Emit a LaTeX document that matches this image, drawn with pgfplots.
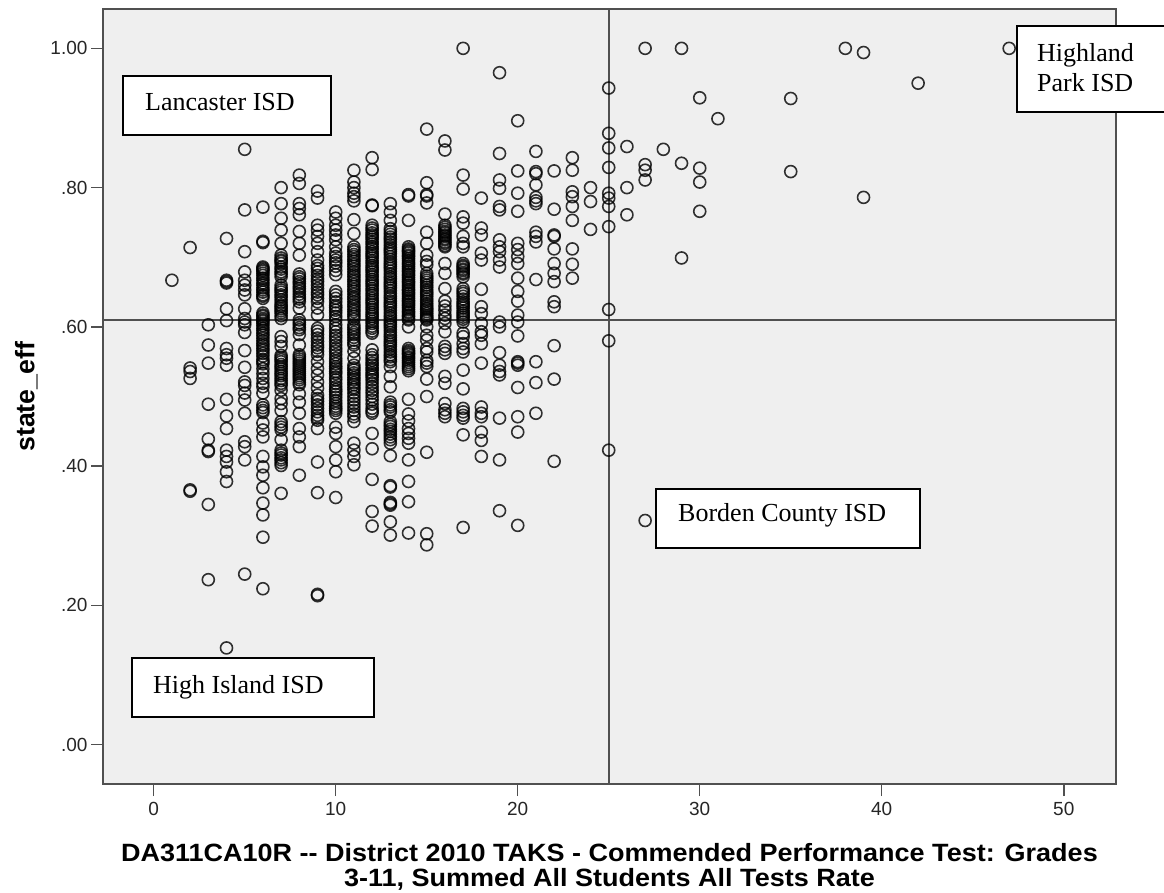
\documentclass[border=0pt]{standalone}
\usepackage{fontspec}
\setmainfont{Liberation Sans}
\newfontfamily\timesf{Liberation Serif}
\newfontfamily\widebold[FakeStretch=1.08]{Liberation Sans Bold}
\usepackage{pgfplots}
\pgfplotsset{compat=1.18}
\definecolor{plotbg}{HTML}{EFEFEF}
\definecolor{frameg}{HTML}{505050}
\begin{document}
\begin{tikzpicture}[x=1pt,y=1pt]
\useasboundingbox (0,0) rectangle (1164,892);
\begin{axis}[
  at={(103pt,108pt)},anchor=south west,
  width=1013pt,height=774.5pt,scale only axis,
  xmin=-2.786,xmax=52.87,ymin=-0.0564,ymax=1.0558,
  axis background/.style={fill=plotbg},
  axis line style={draw=frameg,line width=2pt},
  xtick={0,10,20,30,40,50},
  ytick={0,.2,.4,.6,.8,1},
  yticklabels={.00,.20,.40,.60,.80,1.00},
  xticklabels={0,10,20,30,40,50},
  tick align=outside,
  major tick length=12pt,
  tick style={draw=frameg,line width=1.5pt},
  xtick pos=bottom,ytick pos=left,
  tick label style={font=\fontsize{19}{22}\selectfont,color=black!85},
  xticklabel style={yshift=-3pt},
  xlabel={DA311CA10R -{}- District 2010 TAKS - Commended Performance Test: Grades\\3-11, Summed All Students All Tests Rate},
  xlabel style={align=center,font=\fontsize{25}{25}\selectfont\widebold,yshift=-21pt},
  ylabel={state\_eff},
  ylabel style={font=\fontsize{26.7}{28}\selectfont\bfseries,yshift=6pt},
]
\addplot[frameg,line width=1.6pt] coordinates {(25,-0.0564)(25,1.0558)};
\addplot[frameg,line width=1.6pt] coordinates {(-2.786,.61)(52.87,.61)};
\addplot[only marks,mark=o,mark size=6pt,mark options={draw=black,draw opacity=.8,line width=1.6pt}] coordinates {
(1,.667)
(2,.714)(2,.541)(2,.536)(2,.526)(2,.366)(2,.364)
(3,.603)(3,.574)(3,.548)(3,.489)(3,.439)(3,.423)(3,.421)(3,.345)(3,.237)
(4,.727)(4,.667)(4,.665)(4,.663)(4,.626)(4,.609)(4,.569)(4,.560)(4,.555)(4,.545)(4,.496)(4,.472)(4,.454)(4,.423)(4,.414)(4,.406)(4,.392)(4,.378)(4,.139)
(5,.855)(5,.768)(5,.708)(5,.679)(5,.667)(5,.660)(5,.653)(5,.646)(5,.626)(5,.612)(5,.607)(5,.603)(5,.592)(5,.566)(5,.542)(5,.521)(5,.516)(5,.505)(5,.495)(5,.476)(5,.435)(5,.428)(5,.409)(5,.245)
(6,.772)(6,.721)(6,.723)(6,.686)(6,.682)(6,.677)(6,.670)(6,.663)(6,.653)(6,.646)(6,.641)(6,.620)(6,.615)(6,.610)(6,.605)(6,.598)(6,.591)(6,.584)(6,.576)(6,.569)(6,.562)(6,.553)(6,.547)(6,.540)(6,.533)(6,.526)(6,.519)(6,.514)(6,.505)(6,.488)(6,.480)(6,.462)(6,.452)(6,.442)(6,.414)(6,.399)(6,.387)(6,.369)(6,.347)(6,.330)(6,.298)(6,.224)
(6,.684)(6,.680)(6,.674)(6,.667)(6,.660)(6,.656)(6,.650)(6,.644)(6,.617)(6,.612)(6,.608)(6,.602)(6,.595)(6,.588)(6,.580)(6,.573)(6,.566)(6,.558)(6,.550)(6,.477)(6,.484)
(7,.800)(7,.777)(7,.756)(7,.739)(7,.720)(7,.703)(7,.696)(7,.691)(7,.686)(7,.679)(7,.672)(7,.660)(7,.653)(7,.646)(7,.639)(7,.631)(7,.626)(7,.620)(7,.612)(7,.586)(7,.579)(7,.572)(7,.559)(7,.553)(7,.546)(7,.540)(7,.533)(7,.526)(7,.519)(7,.509)(7,.497)(7,.490)(7,.480)(7,.464)(7,.456)(7,.452)(7,.438)(7,.423)(7,.416)(7,.409)(7,.401)(7,.361)
(7,.699)(7,.694)(7,.683)(7,.676)(7,.656)(7,.650)(7,.643)(7,.635)(7,.629)(7,.623)(7,.616)(7,.556)(7,.550)(7,.543)(7,.536)(7,.530)(7,.523)(7,.516)(7,.460)(7,.419)(7,.412)(7,.405)
(8,.818)(8,.806)(8,.777)(8,.770)(8,.761)(8,.737)(8,.720)(8,.703)(8,.672)(8,.665)(8,.658)(8,.651)(8,.643)(8,.636)(8,.627)(8,.610)(8,.603)(8,.596)(8,.589)(8,.574)(8,.560)(8,.554)(8,.548)(8,.542)(8,.536)(8,.530)(8,.524)(8,.517)(8,.504)(8,.492)(8,.476)(8,.454)(8,.442)(8,.428)(8,.387)
(8,.676)(8,.669)(8,.662)(8,.655)(8,.647)(8,.640)(8,.557)(8,.551)(8,.545)(8,.539)(8,.533)(8,.527)(8,.520)(8,.606)(8,.599)
(9,.795)(9,.785)(9,.746)(9,.739)(9,.730)(9,.720)(9,.708)(9,.696)(9,.684)(9,.674)(9,.665)(9,.655)(9,.646)(9,.636)(9,.627)(9,.617)(9,.598)(9,.589)(9,.579)(9,.570)(9,.560)(9,.550)(9,.540)(9,.531)(9,.521)(9,.512)(9,.502)(9,.493)(9,.483)(9,.473)(9,.466)(9,.454)(9,.406)(9,.362)(9,.216)(9,.214)
(9,.688)(9,.679)(9,.669)(9,.660)(9,.650)(9,.641)(9,.594)(9,.584)(9,.574)(9,.565)(9,.488)(9,.478)(9,.469)(9,.497)
(10,.765)(10,.756)(10,.746)(10,.739)(10,.732)(10,.725)(10,.715)(10,.706)(10,.696)(10,.687)(10,.675)(10,.651)(10,.641)(10,.631)(10,.624)(10,.615)(10,.603)(10,.593)(10,.584)(10,.574)(10,.565)(10,.555)(10,.547)(10,.540)(10,.533)(10,.524)(10,.514)(10,.507)(10,.499)(10,.490)(10,.483)(10,.476)(10,.456)(10,.447)(10,.428)(10,.409)(10,.392)(10,.355)
(10,.701)(10,.692)(10,.681)(10,.646)(10,.636)(10,.628)(10,.620)(10,.610)(10,.598)(10,.588)(10,.579)(10,.569)(10,.560)(10,.551)(10,.543)(10,.536)(10,.528)(10,.519)(10,.510)(10,.503)(10,.494)(10,.486)(10,.480)
(11,.825)(11,.808)(11,.800)(11,.792)(11,.787)(11,.781)(11,.754)(11,.734)(11,.715)(11,.708)(11,.701)(11,.694)(11,.687)(11,.679)(11,.672)(11,.665)(11,.658)(11,.651)(11,.643)(11,.636)(11,.629)(11,.622)(11,.615)(11,.603)(11,.596)(11,.589)(11,.581)(11,.574)(11,.565)(11,.555)(11,.545)(11,.538)(11,.531)(11,.524)(11,.517)(11,.510)(11,.500)(11,.490)(11,.480)(11,.471)(11,.464)(11,.433)(11,.423)(11,.414)(11,.402)
(11,.711)(11,.704)(11,.697)(11,.690)(11,.683)(11,.675)(11,.668)(11,.661)(11,.654)(11,.647)(11,.640)(11,.632)(11,.625)(11,.618)(11,.611)(11,.599)(11,.592)(11,.585)(11,.577)(11,.541)(11,.534)(11,.527)(11,.520)(11,.513)(11,.505)(11,.495)(11,.485)(11,.475)
(12,.843)(12,.826)(12,.775)(12,.774)(12,.746)(12,.739)(12,.732)(12,.726)(12,.719)(12,.712)(12,.705)(12,.699)(12,.692)(12,.685)(12,.679)(12,.672)(12,.665)(12,.659)(12,.652)(12,.645)(12,.638)(12,.632)(12,.625)(12,.618)(12,.612)(12,.605)(12,.598)(12,.591)(12,.567)(12,.560)(12,.552)(12,.545)(12,.538)(12,.531)(12,.524)(12,.514)(12,.505)(12,.495)(12,.483)(12,.476)(12,.447)(12,.425)(12,.381)(12,.335)(12,.314)
(12,.742)(12,.735)(12,.729)(12,.722)(12,.715)(12,.708)(12,.702)(12,.695)(12,.688)(12,.682)(12,.675)(12,.668)(12,.662)(12,.655)(12,.648)(12,.641)(12,.635)(12,.628)(12,.621)(12,.615)(12,.608)(12,.601)(12,.594)(12,.556)(12,.548)(12,.541)(12,.534)(12,.528)(12,.519)(12,.509)(12,.500)(12,.489)(12,.479)
(13,.777)(13,.765)(13,.753)(13,.741)(13,.733)(13,.726)(13,.718)(13,.711)(13,.705)(13,.697)(13,.690)(13,.684)(13,.676)(13,.669)(13,.662)(13,.656)(13,.648)(13,.641)(13,.634)(13,.628)(13,.620)(13,.613)(13,.606)(13,.600)(13,.592)(13,.585)(13,.578)(13,.572)(13,.564)(13,.557)(13,.550)(13,.543)(13,.529)(13,.514)(13,.492)(13,.485)(13,.478)(13,.464)(13,.457)(13,.450)(13,.442)(13,.433)(13,.415)(13,.372)(13,.370)(13,.348)(13,.346)(13,.344)(13,.320)(13,.301)
(13,.737)(13,.729)(13,.722)(13,.714)(13,.708)(13,.701)(13,.693)(13,.687)(13,.680)(13,.672)(13,.665)(13,.659)(13,.652)(13,.644)(13,.637)(13,.631)(13,.624)(13,.616)(13,.609)(13,.603)(13,.596)(13,.588)(13,.581)(13,.575)(13,.568)(13,.560)(13,.553)(13,.488)(13,.481)(13,.460)(13,.453)(13,.446)(13,.438)
(14,.790)(14,.788)(14,.753)(14,.715)(14,.710)(14,.706)(14,.701)(14,.695)(14,.690)(14,.684)(14,.679)(14,.674)(14,.668)(14,.663)(14,.657)(14,.652)(14,.647)(14,.641)(14,.636)(14,.631)(14,.625)(14,.620)(14,.615)(14,.610)(14,.600)(14,.569)(14,.564)(14,.560)(14,.555)(14,.549)(14,.543)(14,.537)(14,.496)(14,.475)(14,.465)(14,.454)(14,.447)(14,.440)(14,.433)(14,.409)(14,.378)(14,.349)(14,.304)
(14,.712)(14,.708)(14,.703)(14,.698)(14,.692)(14,.687)(14,.681)(14,.676)(14,.671)(14,.665)(14,.660)(14,.654)(14,.649)(14,.644)(14,.638)(14,.633)(14,.628)(14,.622)(14,.617)(14,.612)(14,.566)(14,.562)(14,.557)(14,.552)(14,.546)(14,.540)
(15,.884)(15,.807)(15,.790)(15,.788)(15,.778)(15,.736)(15,.720)(15,.703)(15,.694)(15,.689)(15,.677)(15,.670)(15,.664)(15,.657)(15,.650)(15,.644)(15,.637)(15,.630)(15,.625)(15,.619)(15,.614)(15,.610)(15,.600)(15,.588)(15,.581)(15,.569)(15,.564)(15,.552)(15,.548)(15,.543)(15,.525)(15,.500)(15,.420)(15,.303)(15,.287)
(15,.673)(15,.667)(15,.660)(15,.653)(15,.647)(15,.640)(15,.633)(15,.627)(15,.622)(15,.616)(15,.612)
(16,.867)(16,.854)(16,.762)(16,.746)(16,.740)(16,.735)(16,.730)(16,.725)(16,.720)(16,.715)(16,.691)(16,.677)(16,.655)(16,.637)(16,.630)(16,.624)(16,.617)(16,.612)(16,.605)(16,.593)(16,.572)(16,.567)(16,.562)(16,.529)(16,.519)(16,.490)(16,.481)(16,.476)(16,.471)
(16,.743)(16,.737)(16,.732)(16,.727)(16,.722)(16,.717)
(17,.818)(17,.798)(17,.758)(17,.749)(17,.730)(17,.720)(17,.715)(17,.691)(17,.686)(17,.681)(17,.676)(17,.672)(17,.655)(17,.648)(17,.640)(17,.633)(17,.627)(17,.620)(17,.614)(17,.607)(17,.591)(17,.586)(17,.576)(17,.569)(17,.564)(17,.538)(17,.511)(17,.483)(17,.478)(17,.473)(17,.469)(17,.445)(17,.312)(17,1.000)
(17,.688)(17,.683)(17,.678)(17,.651)(17,.644)(17,.636)(17,.630)(17,.623)(17,.617)(17,.611)
(18,.785)(18,.742)(18,.732)(18,.706)(18,.696)(18,.654)(18,.629)(18,.619)(18,.605)(18,.593)(18,.588)(18,.576)(18,.548)(18,.485)(18,.476)(18,.471)(18,.449)(18,.437)(18,.414)
(19,.965)(19,.849)(19,.811)(19,.799)(19,.773)(19,.768)(19,.725)(19,.715)(19,.708)(19,.696)(19,.686)(19,.607)(19,.600)(19,.563)(19,.545)(19,.536)(19,.531)(19,.469)(19,.409)(19,.336)
(20,.896)(20,.824)(20,.792)(20,.766)(20,.720)(20,.711)(20,.701)(20,.691)(20,.670)(20,.651)(20,.637)(20,.617)(20,.607)(20,.587)(20,.550)(20,.548)(20,.545)(20,.513)(20,.471)(20,.449)(20,.315)
(21,.852)(21,.823)(21,.820)(21,.804)(21,.786)(21,.781)(21,.777)(21,.736)(21,.730)(21,.722)(21,.668)(21,.550)(21,.520)(21,.476)
(22,.824)(22,.769)(22,.732)(22,.730)(22,.712)(22,.691)(22,.677)(22,.665)(22,.636)(22,.629)(22,.573)(22,.525)(22,.407)
(23,.843)(23,.825)(23,.794)(23,.787)(23,.773)(23,.753)(23,.712)(23,.690)(23,.670)
(24,.800)(24,.780)(24,.740)
(25,.943)(25,.878)(25,.857)(25,.829)(25,.792)(25,.785)(25,.773)(25,.744)(25,.625)(25,.580)(25,.423)
(26,.859)(26,.800)(26,.761)
(27,1.000)(27,.833)(27,.825)(27,.811)(27,.322)
(28,.855)
(29,1.000)(29,.835)(29,.699)
(30,.929)(30,.828)(30,.808)(30,.766)
(31,.899)
(35,.928)(35,.823)
(38,1.000)
(39,.994)(39,.786)
(42,.950)
(47,1.000)
};
\end{axis}
\tikzset{ann/.style={fill=white,draw=black,line width=1.5pt}}
\tikzset{anntext/.style={anchor=base west,inner sep=0pt,font=\fontsize{26}{30}\selectfont\timesf}}
% Lancaster
\draw[ann] (123,816) rectangle (331,757);
\node[anntext] at (145,781) {Lancaster ISD};
% Highland
\draw[ann] (1017,866) rectangle (1170,780);
\node[anntext] at (1037,830) {Highland};
\node[anntext] at (1037,800) {Park ISD};
% Borden
\draw[ann] (656,403) rectangle (920,344);
\node[anntext] at (678,370) {Borden County ISD};
% High Island
\draw[ann] (132,234) rectangle (374,175);
\node[anntext] at (153,199) {High Island ISD};
\end{tikzpicture}
\end{document}
